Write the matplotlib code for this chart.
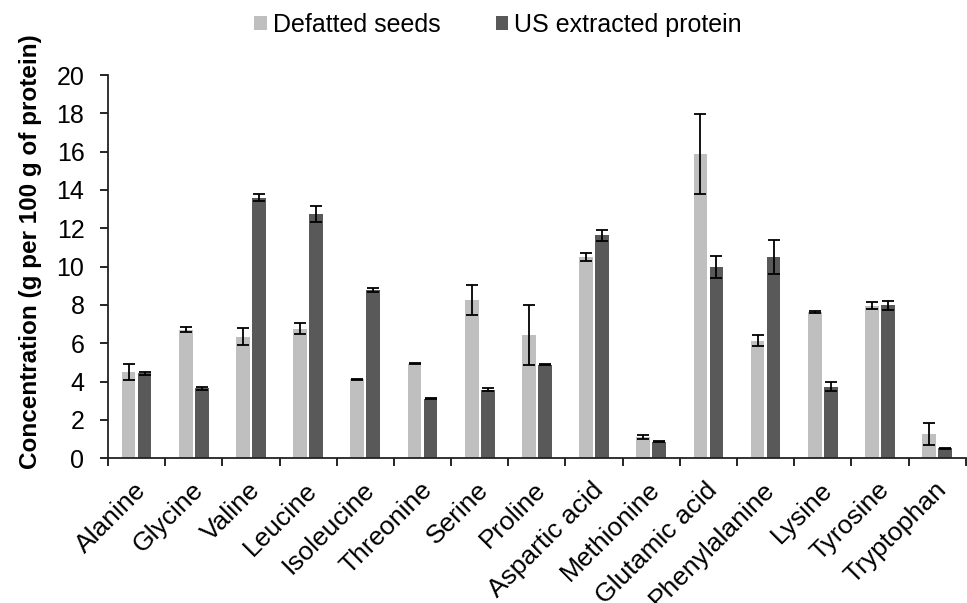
import matplotlib
matplotlib.use("Agg")
import matplotlib.pyplot as plt
import matplotlib.transforms as mtransforms
import numpy as np

categories = ["Alanine", "Glycine", "Valine", "Leucine", "Isoleucine", "Threonine",
              "Serine", "Proline", "Aspartic acid", "Methionine", "Glutamic acid",
              "Phenylalanine", "Lysine", "Tyrosine", "Tryptophan"]
defatted = [4.49, 6.70, 6.35, 6.77, 4.12, 4.94, 8.26, 6.42, 10.52, 1.10, 15.88, 6.14, 7.62, 7.97, 1.27]
defatted_err = [0.41, 0.13, 0.43, 0.30, 0.03, 0.04, 0.76, 1.57, 0.20, 0.09, 2.11, 0.30, 0.04, 0.17, 0.59]
us_protein = [4.43, 3.65, 13.60, 12.75, 8.80, 3.10, 3.58, 4.89, 11.63, 0.87, 10.00, 10.50, 3.74, 7.98, 0.52]
us_err = [0.08, 0.09, 0.20, 0.42, 0.10, 0.02, 0.09, 0.04, 0.27, 0.04, 0.58, 0.89, 0.23, 0.23, 0.04]
series_names = ["Defatted seeds", "US extracted protein"]
y_ticks = list(range(0, 21, 2))

plt.rcParams['font.family'] = ['Liberation Sans', 'DejaVu Sans']

fig = plt.figure(figsize=(9.67, 6.03), dpi=100)
ax = fig.add_axes([0.1117, 0.24, 0.887, 0.6356])

x = np.arange(len(categories))
w = 0.24
off = 0.14
err_kw = dict(ecolor='black', elinewidth=1.3, capsize=4, capthick=1.3)
ax.bar(x - off, defatted, w, yerr=defatted_err, color='#BFBFBF', label=series_names[0],
       error_kw=err_kw, zorder=2)
ax.bar(x + off, us_protein, w, yerr=us_err, color='#595959', label=series_names[1],
       error_kw=err_kw, zorder=2)

ax.set_xlim(-0.5, len(categories) - 0.5)
ax.set_ylim(0, 20)
ax.set_yticks(y_ticks)
ax.tick_params(axis='y', labelsize=18, length=6, width=1.2, direction='out', pad=11)
ax.set_xticks(x)
ax.set_xticklabels(categories, rotation=45, ha='right', rotation_mode='anchor', fontsize=19)
ax.tick_params(axis='x', which='major', length=0, pad=14)
ax.set_xticks(np.arange(len(categories) + 1) - 0.5, minor=True)
ax.tick_params(axis='x', which='minor', length=6, width=1.2, direction='out')
shift = mtransforms.ScaledTranslation(-3 / 100, 0, fig.dpi_scale_trans)
for lab in ax.get_xticklabels():
    lab.set_transform(lab.get_transform() + shift)

for s in ['top', 'right']:
    ax.spines[s].set_visible(False)
for s in ['left', 'bottom']:
    ax.spines[s].set_linewidth(1.3)
    ax.spines[s].set_color('#222222')

ax.set_ylabel("Concentration (g per 100 g of protein)", fontsize=17.5, fontweight='bold')
ax.yaxis.set_label_coords(-0.077, 0.538)

fig.legend(loc='center', bbox_to_anchor=(0.515, 0.9585), ncol=2, frameon=False, fontsize=18,
           handlelength=0.5, handleheight=0.5, handletextpad=0.25, columnspacing=2.2)

fig.savefig("out.png", dpi=100)
